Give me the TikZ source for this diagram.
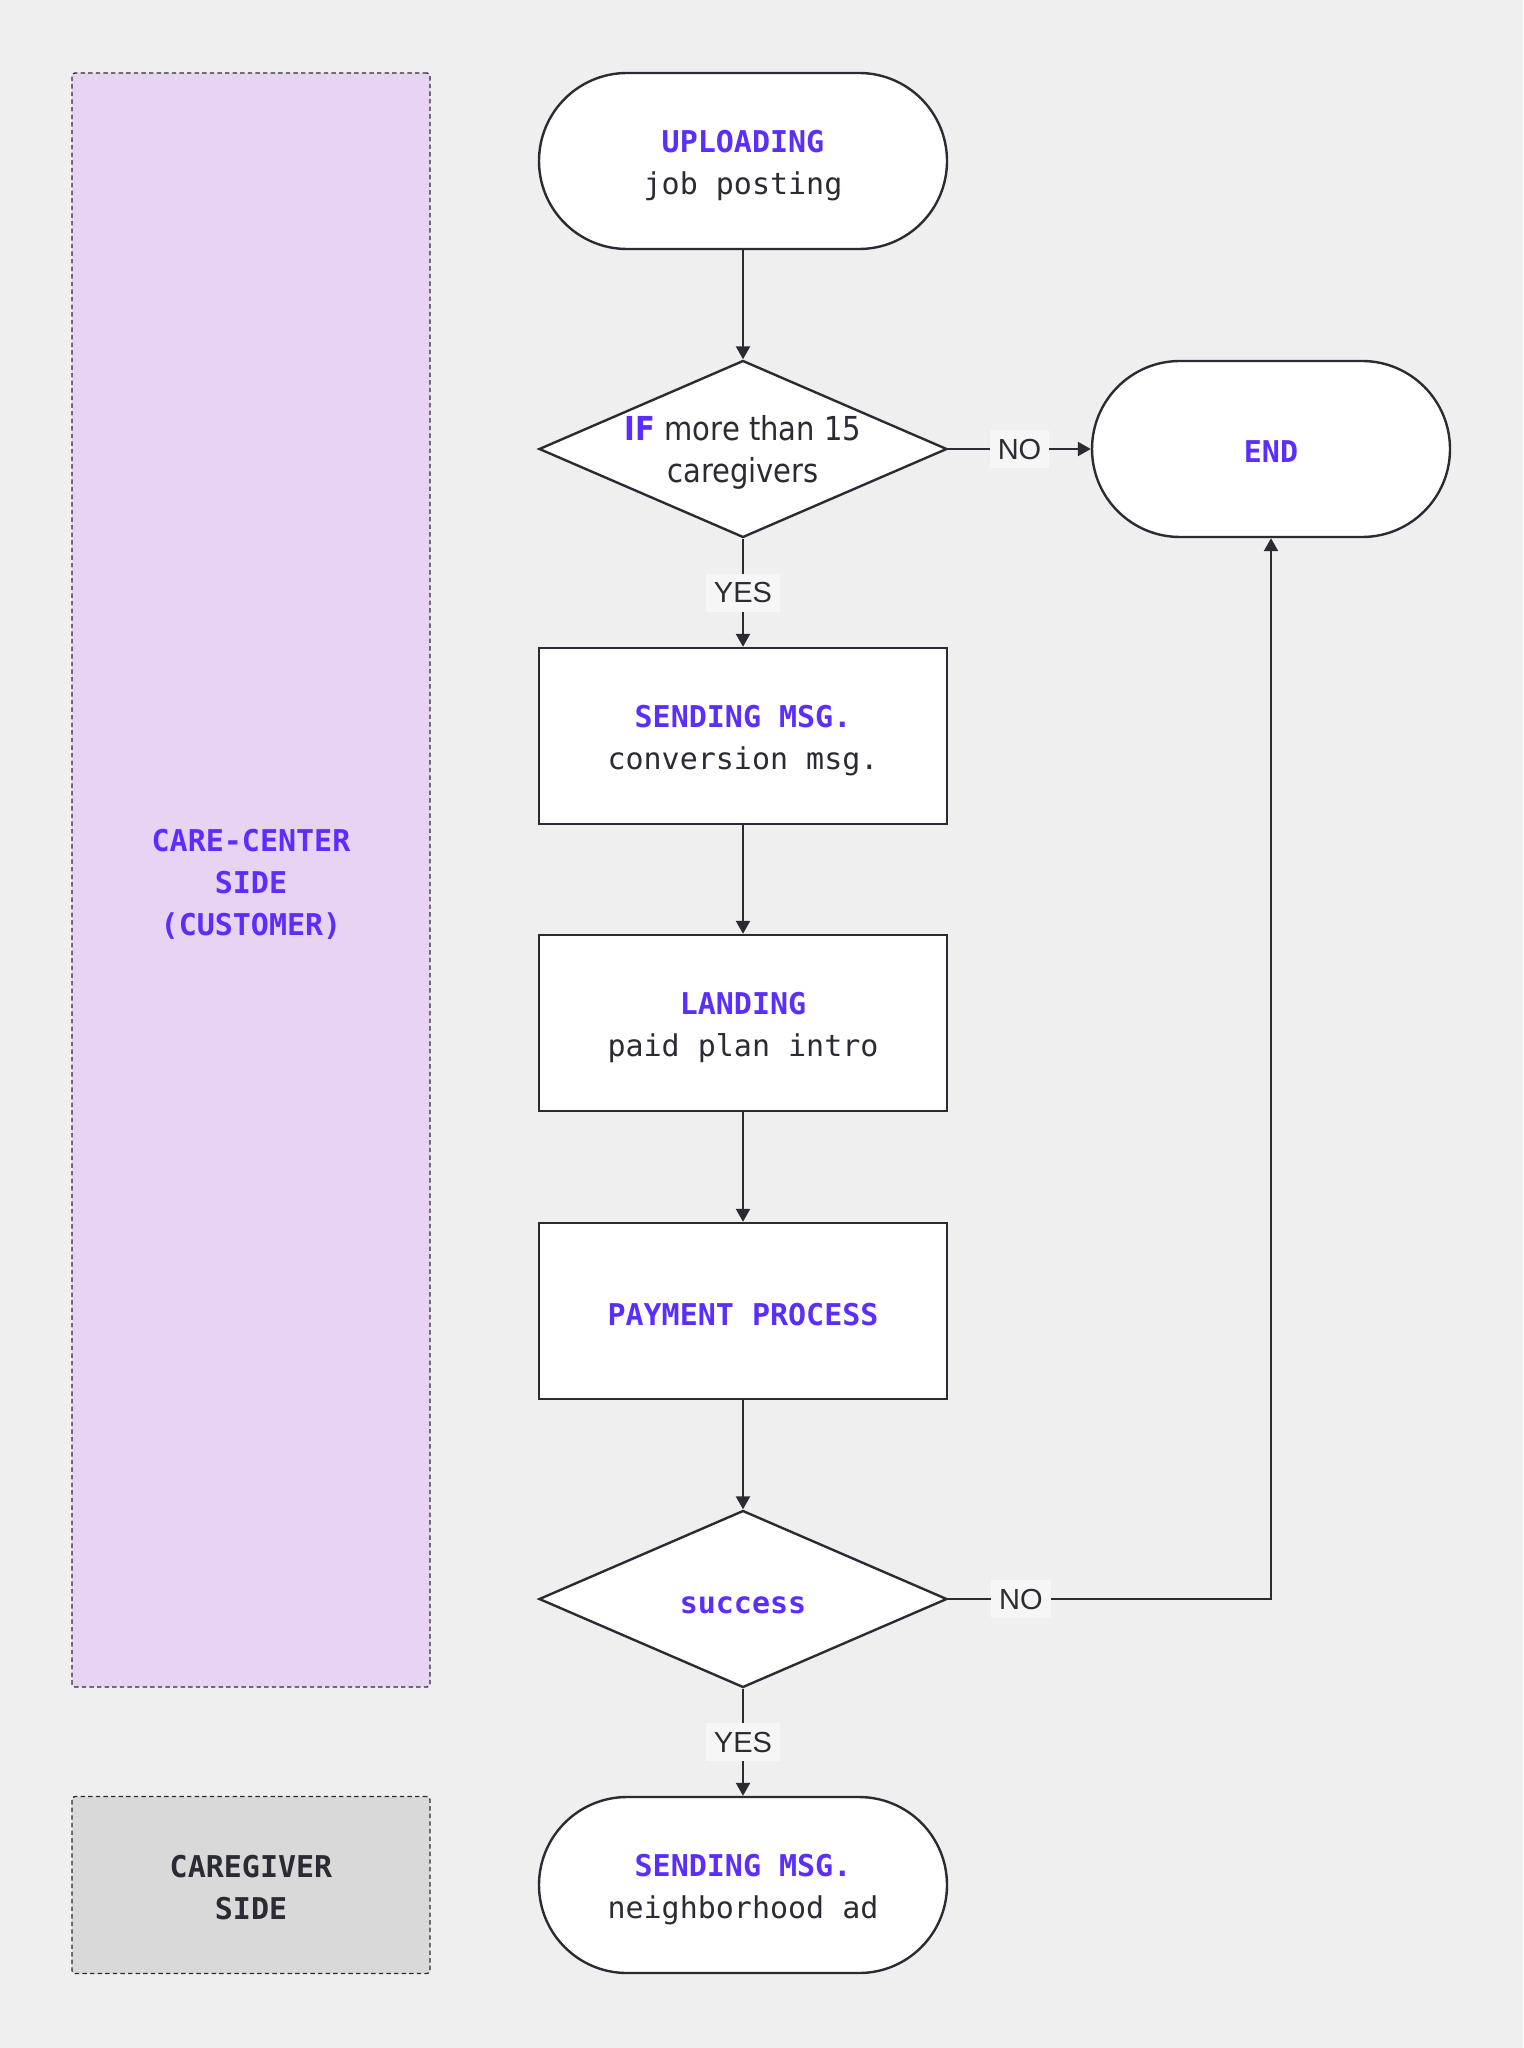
\documentclass[tikz,border=0pt]{standalone}
\usepackage{fontspec}
\setmonofont{DejaVu Sans Mono}
\setsansfont{Liberation Sans}
\newfontfamily\condfont[FakeStretch=0.88]{DejaVu Sans}
\usetikzlibrary{shapes.geometric,arrows.meta}
\definecolor{ink}{HTML}{2B2C33}
\definecolor{violet}{HTML}{5B2EFF}
\definecolor{lavender}{HTML}{E6D4F2}
\definecolor{panelgray}{HTML}{D9D9D9}
\definecolor{paper}{HTML}{EFEFEF}
\definecolor{lblbg}{HTML}{F6F6F6}
\newcommand{\hd}[1]{\textcolor{violet}{\bfseries #1}}

\begin{document}
\begin{tikzpicture}[x=0.5pt,y=-0.5pt,>={Triangle[length=6.5pt,width=7pt]},
  every node/.style={text=ink,font=\ttfamily\fontsize{15}{21}\selectfont},
  term/.style={rectangle,draw=ink,fill=white,line width=1.2pt,rounded corners=44pt,
    minimum width=204pt,minimum height=88pt,align=center,text height=37pt},
  proc/.style={rectangle,draw=ink,fill=white,line width=1.2pt,
    minimum width=204pt,minimum height=88pt,align=center,text height=37pt},
  oneline/.style={text height=14pt,text depth=0pt},
  decision/.style={diamond,draw=ink,fill=white,line width=1.2pt,inner sep=0pt,
    minimum width=204pt,minimum height=88.5pt},
  dtext/.style={align=center,yshift=-1.5pt,font=\condfont\fontsize{16.5}{21}\selectfont},
  lbl/.style={fill=lblbg,inner xsep=4pt,inner ysep=4.5pt,text height=10pt,text depth=0pt,
    font=\sffamily\fontsize{14.5}{16}\selectfont},
  panel/.style={rectangle,draw=ink,dashed,dash pattern=on 2.2pt off 1.6pt,line width=0.7pt,
    rounded corners=1.5pt,minimum width=179pt,align=center},
  flow/.style={->,draw=ink,line width=1.15pt}]
\useasboundingbox[fill=paper] (0,0) rectangle (1523,2048);
% side panels
\node[panel,fill=lavender,minimum height=807pt,text height=57pt] (care) at (251,880)
  {\hd{CARE-CENTER}\\\hd{SIDE}\\\hd{(CUSTOMER)}};
\node[panel,fill=panelgray,minimum height=88.5pt,text height=35pt] (giver) at (251,1885)
  {\bfseries CAREGIVER\\\bfseries SIDE};
% main column
\node[term] (up) at (743,161) {\hd{UPLOADING}\\job posting};
\node[decision,label={[dtext]center:{\textcolor{violet}{\bfseries IF} more than 15\\caregivers}}]
  (chk) at (743,449) {};
\node[term,oneline,minimum width=179pt] (fin) at (1271,449) {\hd{END}};
\node[proc] (msg) at (743,736) {\hd{SENDING MSG.}\\conversion msg.};
\node[proc] (land) at (743,1023) {\hd{LANDING}\\paid plan intro};
\node[proc,oneline] (pay) at (743,1311) {\hd{PAYMENT PROCESS}};
\node[decision,oneline] (ok) at (743,1599) {\hd{success}};
\node[term] (ad) at (743,1885) {\hd{SENDING MSG.}\\neighborhood ad};
% connectors
\draw[flow] (up) -- (chk);
\draw[flow] (chk) -- node[lbl]{NO} (fin);
\draw[flow] (chk) -- node[lbl]{YES} (msg);
\draw[flow] (msg) -- (land);
\draw[flow] (land) -- (pay);
\draw[flow] (pay) -- (ok);
\draw[flow] (ok.east) -- node[lbl,pos=0.225]{NO} (ok.east -| fin.south) -- (fin.south);
\draw[flow] (ok) -- node[lbl]{YES} (ad);
\end{tikzpicture}
\end{document}
